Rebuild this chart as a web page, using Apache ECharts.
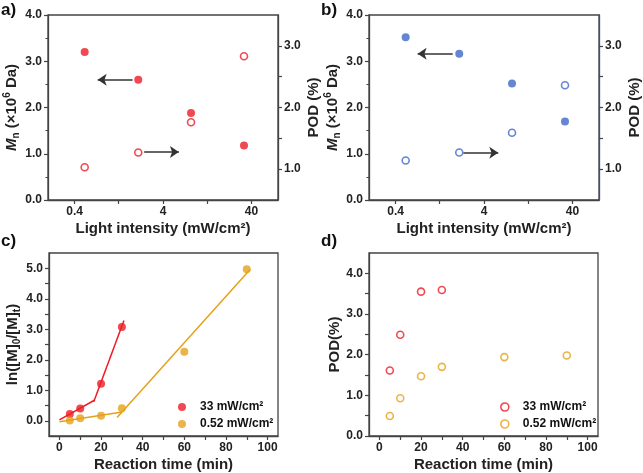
<!DOCTYPE html>
<html><head><meta charset="utf-8">
<script src="https://cdn.jsdelivr.net/npm/echarts@6/dist/echarts.min.js"></script>
<style>html,body{margin:0;padding:0;background:#fff}#c{width:643px;height:473px}</style>
</head><body><div id="c"></div><script>
// ---- data ----
const intensity = [0.52, 2.1, 8.3, 33];          // mW/cm2
const mnA = [3.2, 2.6, 1.88, 1.18];               // x10^6 Da
const podA = [1.03, 1.27, 1.76, 2.83];            // %
const mnB = [3.52, 3.16, 2.52, 1.70];
const podB = [1.14, 1.27, 1.59, 2.36];
const arrowsA = [[1.81, 2.6, 0.73, 2.6], [2.45, 1.04, 6.05, 1.04]];
const arrowsB = [[1.77, 3.16, 0.71, 3.16], [2.34, 1.02, 5.8, 1.02]];
const logTickLabels = [0.4, 4, 40];
const logMinorTicks = [1.26, 12.6];
const timeHigh = [5, 10, 20, 30];
const timeLow = [5, 10, 20, 30, 60, 90];
const lnHigh = [0.22, 0.40, 1.21, 3.07];
const lnLow = [0.01, 0.08, 0.16, 0.41, 2.26, 4.97];
const fitHigh1 = [[0, 0.03], [17, 0.68]];
const fitHigh2 = [[16.5, 0.62], [31, 3.29]];
const fitLow1 = [[0, -0.03], [30.2, 0.29]];
const fitLow2 = [[27.7, 0.11], [91.6, 4.96]];
const podHigh = [1.61, 2.49, 3.55, 3.59];
const podLow = [0.49, 0.93, 1.47, 1.70, 1.94, 1.98];
const timeTicks = [0, 20, 40, 60, 80, 100];
const timeMinor = [10, 30, 50, 70, 90];
const lnTicks = [0, 1, 2, 3, 4, 5];
const podTicksD = [0, 1, 2, 3, 4];
const podTicksAB = [1, 2, 3];
const seriesNames = ['33 mW/cm²', '0.52 mW/cm²'];

// ---- style ----
const FF = '"Liberation Sans", Arial, sans-serif';
const RED = '#EE1C25', ORANGE = '#E6A11A', BLUE = '#3E68C8', AX = '#444';
const L = v => Math.log10(v);
const halfSteps = arr => arr.slice(0, -1).map((v, i) => (v + arr[i + 1]) / 2);

function axis(o) {
  const base = {
    axisLine: { show: true, onZero: false, lineStyle: { color: AX, width: 1.3 } },
    axisTick: { show: true, inside: false, length: 4, lineStyle: { color: AX, width: 1.2 } },
    axisLabel: { fontFamily: FF, fontWeight: 'bold', fontSize: 12, color: '#222', margin: 6 },
    splitLine: { show: false },
    nameLocation: 'middle',
    nameTextStyle: { fontFamily: FF, fontWeight: 'bold', fontSize: 15, color: '#222',
      rich: {
        i: { fontFamily: FF, fontWeight: 'bold', fontStyle: 'italic', fontSize: 15, color: '#222' },
        b: { fontFamily: FF, fontWeight: 'bold', fontSize: 15, color: '#222' },
        sub: { fontFamily: FF, fontWeight: 'bold', fontSize: 10, color: '#222', verticalAlign: 'bottom', lineHeight: 19 },
        sup: { fontFamily: FF, fontWeight: 'bold', fontSize: 10, color: '#222', verticalAlign: 'top', lineHeight: 19 }
      } }
  };
  for (const k in o) {
    if (base[k] && typeof base[k] === 'object' && typeof o[k] === 'object' && !Array.isArray(o[k])) {
      base[k] = Object.assign({}, base[k], o[k]);
    } else base[k] = o[k];
  }
  return base;
}
const fmtLog = v => String(parseFloat(Math.pow(10, v).toPrecision(2)));
function logX(gi) {
  return axis({ type: 'value', gridIndex: gi, min: L(0.2), max: L(80),
    axisLabel: { customValues: logTickLabels.map(L), formatter: fmtLog },
    axisTick: { customValues: logTickLabels.concat(logMinorTicks).map(L) },
    name: 'Light intensity (mW/cm²)', nameGap: 21 });
}
function mnY(gi) {
  return axis({ type: 'value', gridIndex: gi, min: 0, max: 4, interval: 1, position: 'left',
    minorTick: { show: true, splitNumber: 2, length: 2.5, lineStyle: { color: AX, width: 1 } },
    axisLabel: { formatter: v => v.toFixed(1) },
    name: '{i|M}{sub|n}{b| (×10}{sup|6}{b| Da)}', nameGap: 26 });
}
function podY(gi, col) {
  return axis({ type: 'value', gridIndex: gi, min: 0.5, max: 3.5, position: 'right',
    axisLine: { lineStyle: { color: col, width: 1.3 } },
    axisLabel: { customValues: podTicksAB, formatter: v => v.toFixed(1) },
    axisTick: { customValues: podTicksAB.concat(halfSteps(podTicksAB)) },
    name: 'POD (%)', nameGap: 28 });
}
function timeX(gi) {
  return axis({ type: 'value', gridIndex: gi, min: -5, max: 105,
    axisLabel: { customValues: timeTicks, formatter: v => String(v) },
    axisTick: { customValues: timeTicks.concat(timeMinor) },
    name: 'Reaction time (min)', nameGap: 21 });
}
function arrowLines(arr) {
  return arr.map(a => [{ coord: [L(a[0]), a[1]], symbol: 'none' }, { coord: [L(a[2]), a[3]], symbol: 'arrow' }]);
}
const filled = (c) => ({ color: c });
const open = (c) => ({ color: '#fff', borderColor: c, borderWidth: 1.6 });
const gridBase = { show: true, borderColor: AX, borderWidth: 1.3, backgroundColor: 'transparent' };
const legText = { fontFamily: FF, fontWeight: 'bold', fontSize: 12, color: '#111', lineHeight: 14, padding: [0, 0, 0, 9] };

const option = {
  animation: false,
  backgroundColor: '#fff',
  title: [['a)', 1, 2], ['b)', 321, 2], ['c)', 1, 233], ['d)', 321, 233]].map(t => ({
    text: t[0], left: t[1], top: t[2], padding: 0,
    textStyle: { fontFamily: FF, fontWeight: 'bold', fontSize: 17, color: '#111' } })),
  grid: [
    Object.assign({ left: 48, top: 15, width: 230, height: 185 }, gridBase),
    Object.assign({ left: 369, top: 15, width: 230, height: 185 }, gridBase),
    Object.assign({ left: 49, top: 253, width: 229, height: 184 }, gridBase),
    Object.assign({ left: 369, top: 253, width: 229, height: 184 }, gridBase)
  ],
  xAxis: [logX(0), logX(1), timeX(2), timeX(3)],
  yAxis: [
    mnY(0), podY(0, AX), mnY(1), podY(1, '#3a4f9c'),
    axis({ type: 'value', gridIndex: 2, min: -0.5, max: 5.5,
      axisLabel: { customValues: lnTicks, formatter: v => v.toFixed(1) },
      axisTick: { customValues: lnTicks.concat(halfSteps(lnTicks)) },
      name: '{b|ln([M]}{sub|0}{b|/[M]}{sub|t}{b|)}', nameGap: 26 }),
    axis({ type: 'value', gridIndex: 3, min: 0, max: 4.5,
      axisLabel: { customValues: podTicksD, formatter: v => v.toFixed(1) },
      axisTick: { customValues: podTicksD.concat(halfSteps(podTicksD)) },
      name: 'POD(%)', nameGap: 26 })
  ],
  legend: [
    { left: 173, top: 395, orient: 'vertical', itemWidth: 8, itemHeight: 8, itemGap: 3, textStyle: legText,
      data: [{ name: seriesNames[0], icon: 'circle' }, { name: seriesNames[1], icon: 'circle' }] },
    { left: 495, top: 395, orient: 'vertical', itemWidth: 8, itemHeight: 8, itemGap: 3, textStyle: legText,
      data: [
        { name: seriesNames[0] + ' ', icon: 'circle', itemStyle: { color: '#fff', borderColor: RED, borderWidth: 1.6 } },
        { name: seriesNames[1] + ' ', icon: 'circle', itemStyle: { color: '#fff', borderColor: ORANGE, borderWidth: 1.6 } }
      ] }
  ],
  series: [
    // a
    { type: 'scatter', xAxisIndex: 0, yAxisIndex: 0, symbolSize: 8, itemStyle: filled(RED),
      data: intensity.map((x, i) => [L(x), mnA[i]]),
      markLine: { silent: true, symbolSize: 9, label: { show: false },
        lineStyle: { color: '#333', width: 1.6, type: 'solid' }, data: arrowLines(arrowsA) } },
    { type: 'scatter', xAxisIndex: 0, yAxisIndex: 1, symbolSize: 7, itemStyle: open(RED),
      data: intensity.map((x, i) => [L(x), podA[i]]) },
    // b
    { type: 'scatter', xAxisIndex: 1, yAxisIndex: 2, symbolSize: 8, itemStyle: filled(BLUE),
      data: intensity.map((x, i) => [L(x), mnB[i]]),
      markLine: { silent: true, symbolSize: 9, label: { show: false },
        lineStyle: { color: '#333', width: 1.6, type: 'solid' }, data: arrowLines(arrowsB) } },
    { type: 'scatter', xAxisIndex: 1, yAxisIndex: 3, symbolSize: 7, itemStyle: open(BLUE),
      data: intensity.map((x, i) => [L(x), podB[i]]) },
    // c fits
    { type: 'line', name: 'fitH1', xAxisIndex: 2, yAxisIndex: 4, symbol: 'none', data: fitHigh1, lineStyle: { color: RED, width: 1.5 } },
    { type: 'line', name: 'fitH2', xAxisIndex: 2, yAxisIndex: 4, symbol: 'none', data: fitHigh2, lineStyle: { color: RED, width: 1.5 } },
    { type: 'line', name: 'fitL1', xAxisIndex: 2, yAxisIndex: 4, symbol: 'none', data: fitLow1, lineStyle: { color: ORANGE, width: 1.5 } },
    { type: 'line', name: 'fitL2', xAxisIndex: 2, yAxisIndex: 4, symbol: 'none', data: fitLow2, lineStyle: { color: ORANGE, width: 1.5 } },
    // c points
    { type: 'scatter', name: seriesNames[0], xAxisIndex: 2, yAxisIndex: 4, symbolSize: 8, itemStyle: filled(RED),
      data: timeHigh.map((t, i) => [t, lnHigh[i]]) },
    { type: 'scatter', name: seriesNames[1], xAxisIndex: 2, yAxisIndex: 4, symbolSize: 8, itemStyle: filled(ORANGE),
      data: timeLow.map((t, i) => [t, lnLow[i]]) },
    // d
    { type: 'scatter', name: seriesNames[0] + ' ', xAxisIndex: 3, yAxisIndex: 5, symbol: 'circle', symbolSize: 7, itemStyle: open(RED),
      data: timeHigh.map((t, i) => [t, podHigh[i]]) },
    { type: 'scatter', name: seriesNames[1] + ' ', xAxisIndex: 3, yAxisIndex: 5, symbol: 'circle', symbolSize: 7, itemStyle: open(ORANGE),
      data: timeLow.map((t, i) => [t, podLow[i]]) }
  ]
};
const chart = echarts.init(document.getElementById('c'), null, { renderer: 'canvas' });
chart.setOption(option);
</script></body></html>
